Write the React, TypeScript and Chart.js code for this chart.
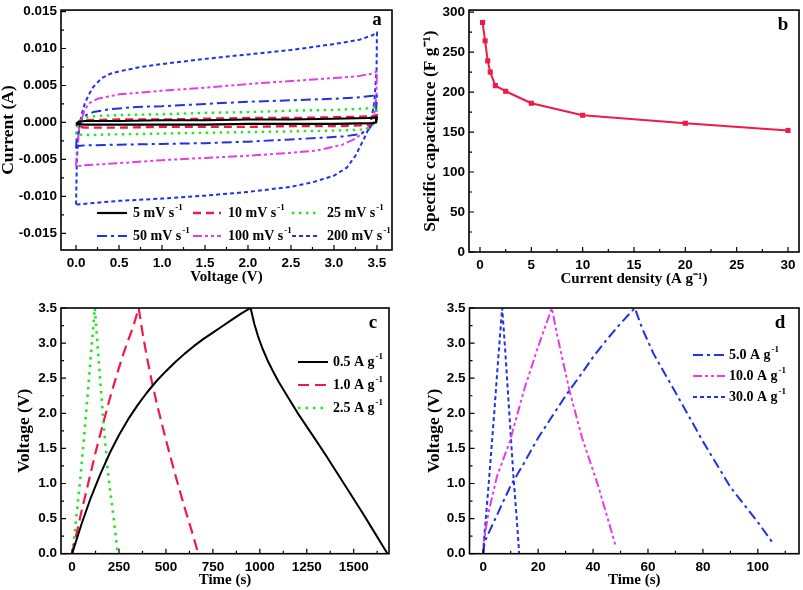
import React, { useEffect, useRef } from 'react';
import { Chart, registerables } from 'chart.js';

Chart.register(...registerables);

const SERIF = '"Liberation Serif", "Times New Roman", Times, serif';
const SANS = '"Liberation Sans", Arial, Helvetica, sans-serif';

const BLACK = '#000000';
const RED = '#f01a46';
const GREEN = '#22e622';
const BLUE = '#1e32e6';
const MAGENTA = '#e63ce6';

// ---------------- Panel a : CV loops [voltage (V), current (A)]
const cvLabels = ['5 mV s', '10 mV s', '25 mV s', '50 mV s', '100 mV s', '200 mV s'];
const cv5 = [[0,-0.0002],[0.03,0.0001],[0.1,0.0002],[0.5,0.0002],[1.0,0.0003],[1.5,0.0003],[2.0,0.0004],[2.5,0.0004],[3.0,0.0005],[3.4,0.0006],[3.5,0.0007],[3.49,0.0],[3.45,-0.0001],[3.0,-0.0002],[2.5,-0.0002],[2.0,-0.0002],[1.5,-0.0003],[1.0,-0.0003],[0.5,-0.0003],[0.1,-0.0003],[0,-0.0002]];
const cv10 = [[0,-0.0005],[0.04,0.0002],[0.1,0.0003],[0.5,0.0004],[1.0,0.0004],[1.5,0.0005],[2.0,0.0006],[2.5,0.0006],[3.0,0.0007],[3.4,0.0008],[3.5,0.001],[3.48,0.0001],[3.42,-0.0003],[3.3,-0.0004],[3.0,-0.0005],[2.5,-0.0005],[2.0,-0.0006],[1.5,-0.0006],[1.0,-0.0006],[0.5,-0.0007],[0.1,-0.0007],[0,-0.0005]];
const cv25 = [[0,-0.0016],[0.02,-0.0004],[0.06,0.0004],[0.15,0.0008],[0.3,0.0009],[0.5,0.001],[1.0,0.0011],[1.5,0.0013],[2.0,0.0014],[2.5,0.0016],[3.0,0.0017],[3.4,0.0019],[3.5,0.0021],[3.49,0.0008],[3.46,-0.0002],[3.4,-0.0008],[3.3,-0.001],[3.0,-0.0011],[2.5,-0.0012],[2.0,-0.0013],[1.5,-0.0014],[1.0,-0.0015],[0.5,-0.0016],[0.1,-0.0017],[0,-0.0016]];
const cv50 = [[0,-0.0035],[0.01,-0.0015],[0.05,0.0002],[0.1,0.0009],[0.2,0.0014],[0.4,0.0018],[0.7,0.0021],[1.0,0.0022],[1.5,0.0025],[2.0,0.0028],[2.5,0.003],[3.0,0.0032],[3.3,0.0034],[3.45,0.0036],[3.5,0.0038],[3.49,0.0015],[3.46,0.0],[3.4,-0.001],[3.3,-0.0016],[3.1,-0.0019],[2.5,-0.0023],[2.0,-0.0026],[1.5,-0.0028],[1.0,-0.0029],[0.5,-0.003],[0.1,-0.0031],[0.02,-0.0032],[0,-0.0035]];
const cv100 = [[0,-0.006],[0.01,-0.0035],[0.04,-0.0005],[0.1,0.0017],[0.15,0.0026],[0.25,0.0032],[0.5,0.0038],[1.0,0.0043],[1.5,0.0047],[2.0,0.0052],[2.5,0.0056],[3.0,0.006],[3.3,0.0063],[3.45,0.0066],[3.5,0.0069],[3.495,0.004],[3.47,0.0012],[3.42,-0.0004],[3.35,-0.0012],[3.25,-0.0022],[3.1,-0.003],[2.8,-0.0038],[2.5,-0.0041],[2.0,-0.0045],[1.5,-0.0048],[1.0,-0.0051],[0.5,-0.0055],[0.1,-0.0058],[0.02,-0.0059],[0,-0.006]];
const cv200 = [[0,-0.0111],[0.005,-0.008],[0.01,-0.005],[0.03,-0.0015],[0.06,0.0008],[0.1,0.0025],[0.15,0.0038],[0.2,0.0048],[0.3,0.006],[0.4,0.0066],[0.5,0.0069],[0.75,0.0075],[1.0,0.0079],[1.5,0.0086],[2.0,0.0092],[2.5,0.0098],[3.0,0.0106],[3.3,0.0112],[3.45,0.0118],[3.5,0.0122],[3.495,0.007],[3.47,0.0027],[3.42,-0.0004],[3.35,-0.0022],[3.25,-0.0045],[3.15,-0.0061],[3.0,-0.0072],[2.75,-0.0081],[2.5,-0.0087],[2.0,-0.0094],[1.5,-0.0099],[1.0,-0.0103],[0.5,-0.0106],[0.2,-0.0109],[0,-0.0111]];
const aXTicks = [0, 0.5, 1, 1.5, 2, 2.5, 3, 3.5];
const aYTicks = [-0.015, -0.01, -0.005, 0, 0.005, 0.01, 0.015];

// ---------------- Panel b : specific capacitance
const bDensity = [0.25, 0.5, 0.75, 1, 1.5, 2.5, 5, 10, 20, 30];
const bCapacitance = [287, 264, 239, 225, 208, 201, 186, 171, 161, 152];
const bXTicks = [0, 5, 10, 15, 20, 25, 30];
const bYTicks = [0, 50, 100, 150, 200, 250, 300];

// ---------------- Panel c : GCD [time (s), voltage (V)]
const cLabels = ['0.5 A g', '1.0 A g', '2.5 A g'];
const gcd05 = [[0,0],[50,0.42],[100,0.8],[150,1.13],[200,1.43],[250,1.69],[300,1.92],[350,2.12],[400,2.3],[450,2.46],[500,2.6],[550,2.73],[600,2.85],[650,2.96],[700,3.06],[750,3.15],[800,3.24],[850,3.33],[900,3.42],[951,3.5],[970,3.28],[990,3.1],[1013,2.93],[1040,2.76],[1070,2.6],[1100,2.45],[1150,2.23],[1200,2.01],[1250,1.81],[1300,1.61],[1350,1.41],[1400,1.2],[1450,0.99],[1500,0.78],[1550,0.57],[1600,0.35],[1650,0.13],[1680,0]];
const gcd10 = [[0,0],[25,0.3],[50,0.6],[75,0.88],[100,1.16],[125,1.44],[150,1.7],[175,1.95],[200,2.2],[225,2.43],[250,2.65],[275,2.86],[300,3.05],[325,3.23],[355,3.5],[375,3.15],[400,2.78],[425,2.45],[450,2.15],[500,1.62],[550,1.12],[600,0.65],[640,0.3],[672,0]];
const gcd25 = [[0,0],[10,0.2],[20,0.45],[45,1.1],[70,1.85],[95,2.65],[121,3.5],[142,2.74],[165,1.95],[187,1.26],[205,0.85],[222,0.5],[243,0]];
const cXTicks = [0, 250, 500, 750, 1000, 1250, 1500];
const vTicks = [0, 0.5, 1, 1.5, 2, 2.5, 3, 3.5];

// ---------------- Panel d : GCD [time (s), voltage (V)]
const dLabels = ['5.0 A g', '10.0 A g', '30.0 A g'];
const gcd5A = [[0,0],[0.5,0.17],[5,0.55],[10,0.97],[15,1.3],[20,1.65],[25,1.95],[30,2.25],[35,2.52],[40,2.8],[45,3.05],[50,3.28],[55.2,3.5],[58,3.2],[62,2.85],[70,2.3],[80,1.6],[90,0.95],[100,0.45],[105.5,0.15]];
const gcd10A = [[0,0],[0.3,0.2],[2,0.6],[5,1.1],[9.7,1.6],[15,2.35],[20,2.95],[25,3.5],[27,3.1],[31.5,2.31],[36,1.65],[42,0.95],[48.3,0.1]];
const gcd30A = [[0,0],[0.3,0.2],[2,1.0],[4,2.0],[5.5,2.8],[6.9,3.5],[8,2.9],[9.5,2.0],[11,1.1],[12.2,0.5],[13.1,0]];
const dXTicks = [0, 20, 40, 60, 80, 100];

const SUP = '-1';

function series(pts: number[][], color: string, dash: number[], width = 2, label = '') {
  return {
    label,
    data: pts.map(([x, y]) => ({ x, y })),
    borderColor: color,
    backgroundColor: color,
    borderDash: dash,
    borderWidth: width,
    pointRadius: 0,
    showLine: true,
    fill: false,
    tension: 0,
    borderCapStyle: 'butt',
    borderJoinStyle: 'round',
  };
}

function axis(min: number, max: number, ticks: number[], dec: number, title: string, isX: boolean, fit: number) {
  return {
    type: 'linear',
    min,
    max,
    afterBuildTicks: (s: any) => { s.ticks = ticks.map((v) => ({ value: v })); },
    afterFit: (s: any) => { if (isX) s.height = fit; else s.width = fit; },
    grid: { display: false, drawTicks: false },
    border: { display: false },
    ticks: {
      color: '#000',
      padding: isX ? 5 : 4,
      maxRotation: 0,
      minRotation: 0,
      autoSkip: false,
      font: { family: SANS, size: 13.5, weight: 'bold', lineHeight: isX ? 1.2 : 0.9 },
      callback: (v: any) => Number(v).toFixed(dec),
    },
    title: {
      display: true,
      text: title,
      color: '#000',
      padding: 0,
      font: { family: SERIF, size: isX ? 15 : 17.5, weight: 'bold', lineHeight: 1 },
    },
  };
}

type LegendItem = { ds: number; label: string; x0: number; x1: number; tx: number; y: number };

function panelPlugin(letter: string, lx: number, ly: number, legend: LegendItem[]) {
  return {
    id: 'panel' + letter,
    afterDatasetsDraw(chart: any) {
      const ctx = chart.ctx;
      const ca = chart.chartArea;
      const xs = chart.scales.x;
      const ys = chart.scales.y;
      ctx.save();
      ctx.setLineDash([]);
      ctx.strokeStyle = '#000';
      ctx.lineWidth = 1.2;
      const minors = (vals: number[], min: number, max: number) => {
        const step = vals[1] - vals[0];
        const out: number[] = [];
        for (let k = -1; k < vals.length + 1; k++) {
          const v = vals[0] + (k + 0.5) * step;
          if (v >= min - 1e-9 && v <= max + 1e-9) out.push(v);
        }
        return out;
      };
      const mx = xs.ticks.map((t: any) => t.value);
      const my = ys.ticks.map((t: any) => t.value);
      ctx.beginPath();
      mx.forEach((v: number) => { const p = xs.getPixelForValue(v); ctx.moveTo(p, ca.bottom); ctx.lineTo(p, ca.bottom - 5); });
      minors(mx, xs.min, xs.max).forEach((v) => { const p = xs.getPixelForValue(v); ctx.moveTo(p, ca.bottom); ctx.lineTo(p, ca.bottom - 3); });
      my.forEach((v: number) => { const p = ys.getPixelForValue(v); ctx.moveTo(ca.left, p); ctx.lineTo(ca.left + 5, p); });
      minors(my, ys.min, ys.max).forEach((v) => { const p = ys.getPixelForValue(v); ctx.moveTo(ca.left, p); ctx.lineTo(ca.left + 3, p); });
      ctx.stroke();
      ctx.lineWidth = 1.6;
      ctx.strokeRect(ca.left, ca.top, ca.right - ca.left, ca.bottom - ca.top);

      ctx.fillStyle = '#000';
      ctx.font = `bold 19px ${SERIF}`;
      ctx.textAlign = 'center';
      ctx.textBaseline = 'middle';
      ctx.fillText(letter, lx, ly);

      ctx.textAlign = 'left';
      legend.forEach((it) => {
        const ds = chart.data.datasets[it.ds];
        ctx.strokeStyle = ds.borderColor;
        ctx.lineWidth = ds.borderWidth;
        ctx.setLineDash(ds.borderDash || []);
        ctx.beginPath();
        ctx.moveTo(it.x0, it.y);
        ctx.lineTo(it.x1, it.y);
        ctx.stroke();
        ctx.setLineDash([]);
        ctx.fillStyle = '#000';
        ctx.font = `bold 14px ${SERIF}`;
        ctx.fillText(it.label, it.tx, it.y);
        const w = ctx.measureText(it.label).width;
        ctx.font = `bold 9px ${SERIF}`;
        ctx.fillText(SUP, it.tx + w + 1, it.y - 5);
      });
      ctx.restore();
    },
  };
}

function makeConfig(o: any) {
  return {
    type: 'scatter',
    data: { datasets: o.datasets },
    options: {
      responsive: false,
      animation: false,
      devicePixelRatio: 1,
      layout: { padding: o.pad },
      plugins: { legend: { display: false }, tooltip: { enabled: false } },
      scales: {
        x: axis(o.xMin, o.xMax, o.xTicks, o.xDec, o.xTitle, true, o.xHeight),
        y: axis(o.yMin, o.yMax, o.yTicks, o.yDec, o.yTitle, false, o.yWidth),
      },
    },
    plugins: [panelPlugin(o.letter, o.lx, o.ly, o.legend)],
  };
}

const configA = () => makeConfig({
  datasets: [
    series(cv5, BLACK, [], 2.2, cvLabels[0]),
    series(cv10, RED, [8, 5], 2.4, cvLabels[1]),
    series(cv25, GREEN, [2.5, 4.5], 2.4, cvLabels[2]),
    series(cv50, BLUE, [10, 4, 3, 4], 2, cvLabels[3]),
    series(cv100, MAGENTA, [9, 3, 3, 3, 3, 3], 2, cvLabels[4]),
    series(cv200, BLUE, [4, 3], 2, cvLabels[5]),
  ],
  pad: { left: 0, right: 8, top: 6, bottom: 10.5 },
  xHeight: 34.5, yWidth: 61,
  xMin: -0.175, xMax: 3.675, yMin: -0.01725, yMax: 0.0152,
  xTicks: aXTicks, yTicks: aYTicks, xDec: 1, yDec: 3,
  xTitle: 'Voltage (V)', yTitle: 'Current (A)',
  letter: 'a', lx: 377, ly: 20,
  legend: [
    { ds: 0, label: cvLabels[0], x0: 97, x1: 127, tx: 133, y: 213 },
    { ds: 1, label: cvLabels[1], x0: 193, x1: 221, tx: 228, y: 213 },
    { ds: 2, label: cvLabels[2], x0: 292, x1: 320, tx: 327, y: 213 },
    { ds: 3, label: cvLabels[3], x0: 97, x1: 127, tx: 133, y: 236 },
    { ds: 4, label: cvLabels[4], x0: 193, x1: 221, tx: 228, y: 236 },
    { ds: 5, label: cvLabels[5], x0: 292, x1: 320, tx: 327, y: 236 },
  ],
});

const configB = () => makeConfig({
  datasets: [{
    ...series(bDensity.map((x, i) => [x, bCapacitance[i]]), RED, [], 2),
    pointRadius: 3.6,
    pointStyle: 'rect',
    pointBorderWidth: 0,
  }],
  pad: { left: 22, right: 3, top: 6, bottom: 8.5 },
  xHeight: 34.5, yWidth: 47,
  xMin: -1.07, xMax: 31.07, yMin: 0, yMax: 302.5,
  xTicks: bXTicks, yTicks: bYTicks, xDec: 0, yDec: 0,
  xTitle: 'Current density (A g\u207B\u00B9)', yTitle: 'Specific capacitance (F g\u207B\u00B9)',
  letter: 'b', lx: 383, ly: 25,
  legend: [],
});

const configC = () => makeConfig({
  datasets: [
    series(gcd05, BLACK, [], 2, cLabels[0]),
    series(gcd10, RED, [11, 6], 2.2, cLabels[1]),
    series(gcd25, GREEN, [2.5, 5], 2.6, cLabels[2]),
  ],
  pad: { left: 15.5, right: 11, top: 13, bottom: 2.5 },
  xHeight: 33.8, yWidth: 45.5,
  xMin: -59, xMax: 1688, yMin: 0, yMax: 3.5,
  xTicks: cXTicks, yTicks: vTicks, xDec: 0, yDec: 1,
  xTitle: 'Time (s)', yTitle: 'Voltage (V)',
  letter: 'c', lx: 373, ly: 28,
  legend: [
    { ds: 0, label: cLabels[0], x0: 298, x1: 328, tx: 333, y: 67 },
    { ds: 1, label: cLabels[1], x0: 298, x1: 328, tx: 333, y: 90 },
    { ds: 2, label: cLabels[2], x0: 298, x1: 328, tx: 333, y: 113 },
  ],
});

const configD = () => makeConfig({
  datasets: [
    series(gcd5A, BLUE, [10, 4, 3, 4], 2, dLabels[0]),
    series(gcd10A, MAGENTA, [9, 3, 3, 3, 3, 3], 2, dLabels[1]),
    series(gcd30A, BLUE, [4, 3], 2, dLabels[2]),
  ],
  pad: { left: 25.5, right: 4, top: 13, bottom: 2.5 },
  xHeight: 33.8, yWidth: 44,
  xMin: -5, xMax: 115, yMin: 0, yMax: 3.5,
  xTicks: dXTicks, yTicks: vTicks, xDec: 0, yDec: 1,
  xTitle: 'Time (s)', yTitle: 'Voltage (V)',
  letter: 'd', lx: 380, ly: 28,
  legend: [
    { ds: 0, label: dLabels[0], x0: 293, x1: 325, tx: 329, y: 60 },
    { ds: 1, label: dLabels[1], x0: 293, x1: 325, tx: 329, y: 81 },
    { ds: 2, label: dLabels[2], x0: 293, x1: 325, tx: 329, y: 102 },
  ],
});

function Panel({ left, top, width, height, make }: { left: number; top: number; width: number; height: number; make: () => any }) {
  const ref = useRef<HTMLCanvasElement>(null);
  useEffect(() => {
    const chart = new Chart(ref.current as HTMLCanvasElement, make());
    return () => chart.destroy();
  }, []);
  return (
    <canvas
      ref={ref}
      width={width}
      height={height}
      style={{ position: 'absolute', left, top, width, height, display: 'block' }}
    />
  );
}

export default function App() {
  return (
    <div style={{ position: 'fixed', left: 0, top: 0, width: 803, height: 590, background: '#fff', overflow: 'hidden' }}>
      <Panel left={0} top={0} width={400} height={295} make={configA} />
      <Panel left={400} top={0} width={403} height={295} make={configB} />
      <Panel left={0} top={295} width={400} height={295} make={configC} />
      <Panel left={400} top={295} width={403} height={295} make={configD} />
    </div>
  );
}
